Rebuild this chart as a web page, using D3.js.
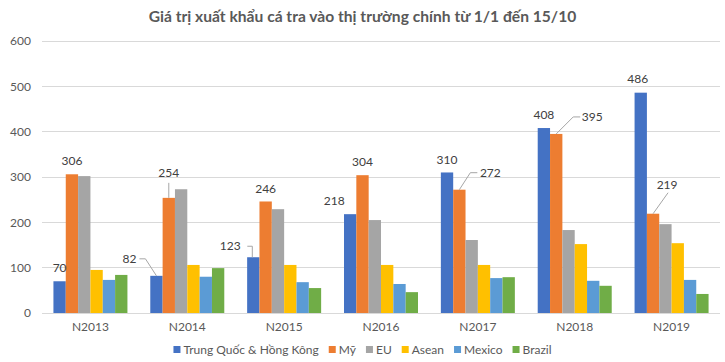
<!DOCTYPE html>
<html><head><meta charset="utf-8">
<script src="https://cdn.jsdelivr.net/npm/d3@7"></script>
<style>body{margin:0;background:#fff}svg{display:block}</style>
</head><body>
<svg id="c" width="725" height="362"></svg>
<script>
const title = "Giá trị xuất khẩu cá tra vào thị trường chính từ 1/1 đến 15/10";
const categories = ["N2013","N2014","N2015","N2016","N2017","N2018","N2019"];
const seriesNames = ["Trung Quốc & Hồng Kông","Mỹ","EU","Asean","Mexico","Brazil"];
const chinaHK = [70, 82, 123, 218, 310, 408, 486];
const usa     = [306, 254, 246, 304, 272, 395, 219];
const eu      = [302, 273, 229, 205, 161, 183, 196];
const asean   = [95, 106, 106, 106, 106, 152, 154];
const mexico  = [73, 80, 68, 64, 77, 71, 73];
const brazil  = [84, 99, 55, 46, 79, 60, 42];
const yTicks  = [0, 100, 200, 300, 400, 500, 600];
const colors  = ["#4472C4","#ED7D31","#A5A5A5","#FFC000","#5B9BD5","#70AD47"];
const series = [chinaHK, usa, eu, asean, mexico, brazil];
// labelled series (China, US) layout: text offset & leader polyline relative to bar top-center
const labelLayout = [
  [{t:[0,-13]}, {t:[0,-13]}],
  [{t:[-27,-17], l:[[0,0],[-11,-17],[-17,-17]]}, {t:[0,-25], l:[[0,0],[0,-15]]}],
  [{t:[-23,-11], l:[[-1,0],[-1,-11],[-6,-11]]}, {t:[0,-13]}],
  [{t:[-16,-13]}, {t:[0,-13]}],
  [{t:[0,-13]}, {t:[31,-17], l:[[0,0],[11,-17],[18,-17]]}],
  [{t:[0,-13]}, {t:[36,-17], l:[[0,0],[17,-17],[24,-17]]}],
  [{t:[-3,-14]}, {t:[14,-29], l:[[0,0],[15,-21]]}]
];

const svg = d3.select("#c");
const L = 42, R = 720, T = 41, B = 313;
const font = "Lato, 'Open Sans', sans-serif";

const x0 = d3.scaleBand().domain(categories).range([L, R]).paddingInner(0.236).paddingOuter(0.118);
const x1 = d3.scaleBand().domain(d3.range(series.length)).range([0, x0.bandwidth()]);
const y = d3.scaleLinear().domain([0, 600]).range([B, T]);

// title
const tt = svg.append("text").attr("x", 362.5).attr("y", 22).attr("text-anchor","middle")
  .attr("font-family", font).attr("font-weight","bold").attr("font-size",16)
  .attr("fill","#595959").text(title);
const tl = tt.node().getComputedTextLength();
tt.attr("font-size", 16 * 428 / tl);

// grid
svg.append("g").selectAll("line").data(yTicks).join("line")
  .attr("x1", L).attr("x2", R).attr("y1", d=>y(d)).attr("y2", d=>y(d))
  .attr("stroke","#d9d9d9").attr("stroke-width",1).attr("shape-rendering","crispEdges");

// y axis labels
const yAxis = d3.axisLeft(y).tickValues(yTicks).tickSize(0).tickPadding(0);
const ya = svg.append("g").attr("transform",`translate(31,0)`).call(yAxis);
ya.select(".domain").remove();
ya.selectAll("text").attr("font-family", font).attr("font-size",12).attr("fill","#595959");

// x axis labels
const xAxis = d3.axisBottom(x0).tickSize(0).tickPadding(0);
const xa = svg.append("g").attr("transform",`translate(0,${B+9})`).call(xAxis);
xa.select(".domain").remove();
xa.selectAll("text").attr("font-family", font).attr("font-size",12).attr("fill","#595959");

// bars
const groups = svg.append("g").selectAll("g").data(categories).join("g")
  .attr("transform", d=>`translate(${x0(d)},0)`);
groups.selectAll("rect").data((d,i)=>series.map((s,k)=>({k, v:s[i]}))).join("rect")
  .attr("x", d=>x1(d.k)).attr("width", x1.bandwidth())
  .attr("y", d=>y(d.v)).attr("height", d=>B - y(d.v))
  .attr("fill", d=>colors[d.k]);

// labels
const lab = svg.append("g");
categories.forEach((c,i)=>{
  [0,1].forEach(k=>{
    const v = series[k][i];
    const cx = x0(c) + x1(k) + x1.bandwidth()/2;
    const ty = y(v);
    const lay = labelLayout[i][k];
    if (lay.l) {
      lab.append("polyline").attr("points", lay.l.map(p=>[cx+p[0], ty+p[1]].join(",")).join(" "))
        .attr("fill","none").attr("stroke","#a6a6a6").attr("stroke-width",1);
    }
    lab.append("text").attr("x", cx + lay.t[0]).attr("y", ty + lay.t[1])
      .attr("dy","0.35em").attr("text-anchor","middle")
      .attr("font-family", font).attr("font-size",12).attr("fill","#404040").text(v);
  });
});

// legend
const lg = svg.append("g");
const items = seriesNames.map((n,k)=>{
  const g = lg.append("g");
  g.append("rect").attr("width",7).attr("height",7).attr("y",-4).attr("fill",colors[k]);
  const t = g.append("text").attr("x",10).attr("dy","0.35em").attr("font-family",font)
    .attr("font-size",12).attr("fill","#595959").text(n);
  return {g, w: 10 + t.node().getComputedTextLength()};
});
const gap = 10;
const total = d3.sum(items, d=>d.w) + gap*(items.length-1);
let cx = 362.5 - total/2;
items.forEach(it=>{ it.g.attr("transform",`translate(${cx},350)`); cx += it.w + gap; });
</script>
</body></html>
